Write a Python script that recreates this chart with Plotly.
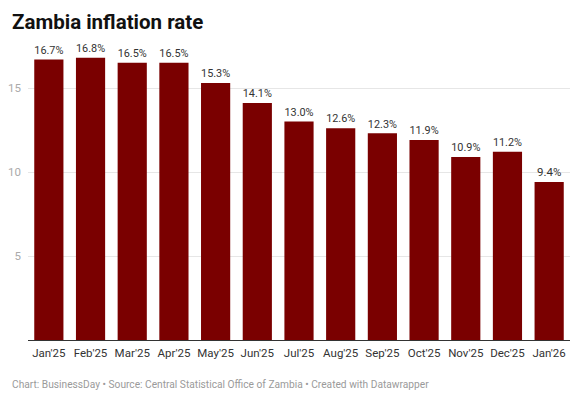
import plotly.graph_objects as go

# Data
months = ["Jan'25", "Feb'25", "Mar'25", "Apr'25", "May'25", "Jun'25", "Jul'25",
          "Aug'25", "Sep'25", "Oct'25", "Nov'25", "Dec'25", "Jan'26"]
inflation = [16.7, 16.8, 16.5, 16.5, 15.3, 14.1, 13.0, 12.6, 12.3, 11.9, 10.9, 11.2, 9.4]
y_ticks = [5, 10, 15]

BAR_COLOUR = "#7a0000"
FONT = "Roboto, Arial, sans-serif"

fig = go.Figure(
    go.Bar(
        x=months,
        y=inflation,
        marker={"color": BAR_COLOUR, "line": {"width": 0}},
        text=[f"{v:.1f}%" for v in inflation],
        textposition="outside",
        textfont={"family": FONT, "size": 11.5, "color": "#333333"},
        cliponaxis=False,
        hoverinfo="skip",
    )
)

fig.update_layout(
    width=579,
    height=400,
    paper_bgcolor="white",
    plot_bgcolor="white",
    margin={"l": 28, "r": 9, "t": 46, "b": 60},
    bargap=0.3,
    showlegend=False,
    font={"family": FONT},
)

fig.update_xaxes(
    showgrid=False,
    showline=True,
    linecolor="#333333",
    linewidth=1,
    ticks="",
    ticklabelstandoff=2,
    tickfont={"family": FONT, "size": 11.5, "color": "#333333"},
    fixedrange=True,
)

fig.update_yaxes(
    range=[0, 17.5],
    tickvals=y_ticks,
    showgrid=True,
    gridcolor="#e6e6e6",
    gridwidth=1,
    zeroline=False,
    showline=False,
    ticks="",
    ticklabelstandoff=6,
    tickfont={"family": FONT, "size": 11.5, "color": "#aaaaaa"},
    fixedrange=True,
)

# title
fig.add_annotation(
    text="<b>Zambia inflation rate</b>",
    xref="paper", yref="paper",
    x=0, xshift=-18, y=1, yshift=38,
    xanchor="left", yanchor="top",
    showarrow=False,
    font={"family": FONT, "size": 20.5, "color": "#111111"},
)

# footer
fig.add_annotation(
    text="Chart: BusinessDay • Source: Central Statistical Office of Zambia • Created with Datawrapper",
    xref="paper", yref="paper",
    x=0, xshift=-18, y=0, yshift=-37,
    xanchor="left", yanchor="top",
    showarrow=False,
    font={"family": FONT, "size": 10.2, "color": "#9a9a9a"},
)

# drop the default body margin so the fixed-size figure fills the window
fig.write_html(
    "out.html",
    config={"displayModeBar": False},
    post_script="document.body.style.margin='0';",
)
